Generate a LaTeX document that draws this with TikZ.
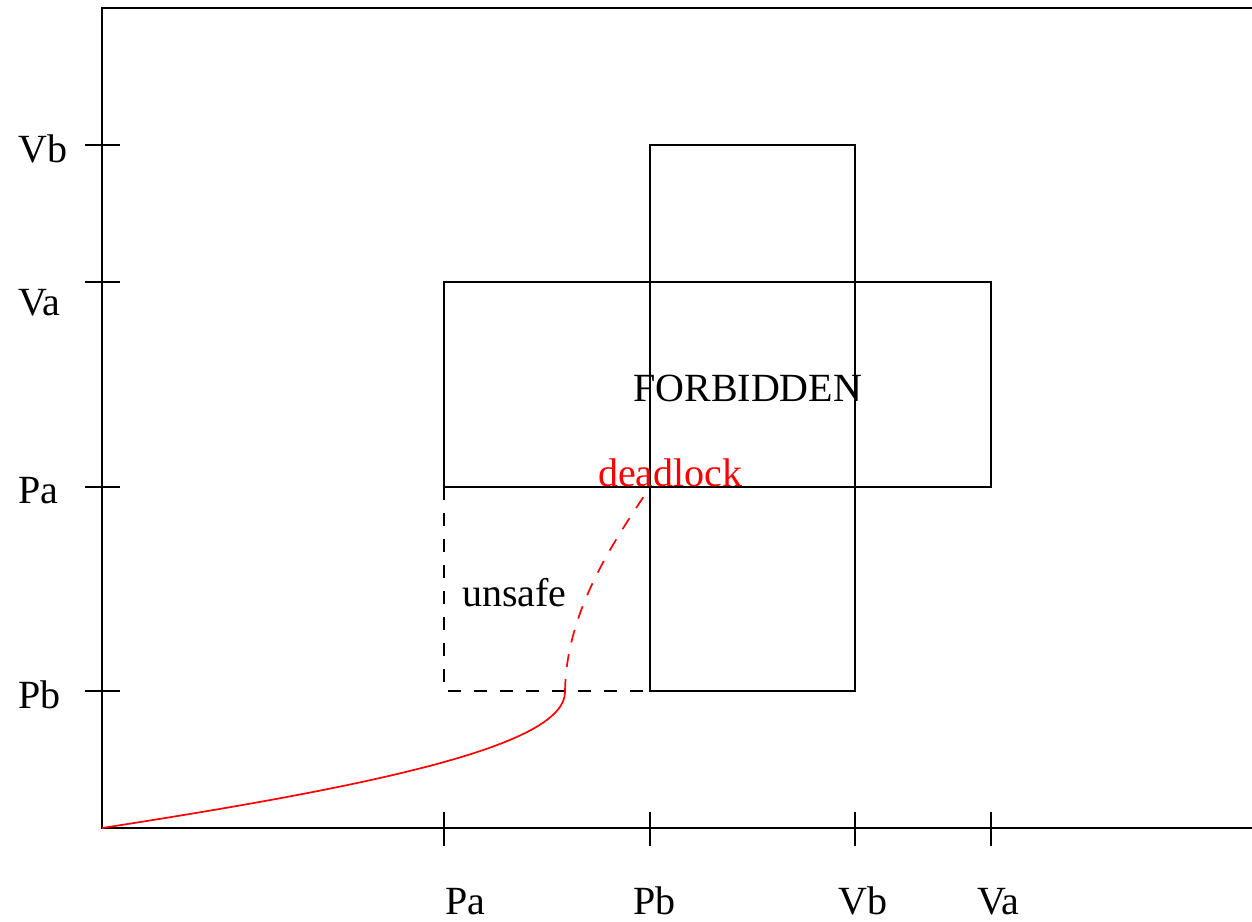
\documentclass[tikz,border=0pt]{standalone}
\usepackage{fontspec}
\setmainfont{Liberation Serif}
\begin{document}
\begin{tikzpicture}[x=1pt,y=-1pt,
  ln/.style={line width=1.7pt,black},
  dsh/.style={line width=1.7pt,dash pattern=on 13pt off 13pt},
  lbl/.style={anchor=base west,inner sep=0pt,font=\fontsize{40}{48}\selectfont},
  redl/.style={line width=1.7pt,red}]
\useasboundingbox (0,0) rectangle (1252,921);
% axes and frame
\coordinate (O) at (102,828);
\coordinate (T) at (102,8);
\coordinate (TR) at (1252,8);
\coordinate (R) at (1252,828);
\draw[ln] (TR) -- (T) -- (O) -- (R);
% y ticks
\foreach \yy in {145,282,487,691}{
  \draw[ln] (85,\yy) -- (120,\yy);
}
\node[lbl] (yVb) at (18,162) {Vb};
\node[lbl] (yVa) at (18,315) {Va};
\node[lbl] (yPa) at (18,503) {Pa};
\node[lbl] (yPb) at (18,708) {Pb};
% x ticks
\foreach \xx in {444,650,855,991}{
  \draw[ln] (\xx,812) -- (\xx,846);
}
\node[lbl] (xPa) at (445,914) {Pa};
\node[lbl] (xPb) at (633,914) {Pb};
\node[lbl] (xVb) at (838,914) {Vb};
\node[lbl] (xVa) at (977,914) {Va};
% rectangles
\draw[ln] (444,282) rectangle (991,487);
\draw[ln] (650,145) rectangle (855,691);
% unsafe dashed
\draw[dsh] (444,487) -- (444,691) -- (650,691);
% labels
\node[lbl] (forb) at (633,401) {FORBIDDEN};
\node[lbl,text=red] (dead) at (598,486) {deadlock};
\node[lbl] (unsafe) at (462,606) {unsafe};
% trajectory
\coordinate (S) at (565,692);
\coordinate (D) at (650,487);
\draw[redl] (O) .. controls (380,785) and (565,745) .. (S);
\draw[redl,dash pattern=on 13pt off 12pt] (S) .. controls (566,610) and (615,540) .. (D);
\end{tikzpicture}
\end{document}
